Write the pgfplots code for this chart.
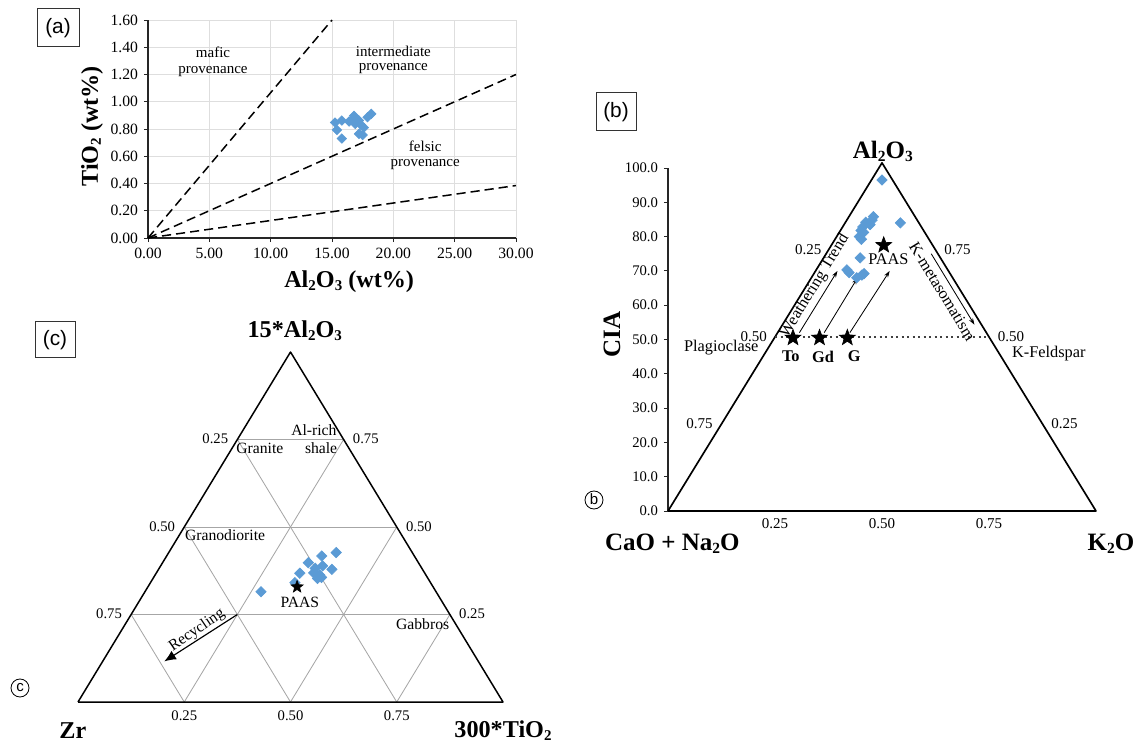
\documentclass[border=0pt]{standalone}
\usepackage{fontspec}
\setmainfont{Liberation Serif}
\newfontfamily\sansf{Liberation Sans}
\usepackage{pgfplots}
\pgfplotsset{compat=1.18}
\usepackage{pgfplotstable}
\usetikzlibrary{arrows.meta}
\definecolor{ptblue}{RGB}{91,155,213}

\pgfdeclareplotmark{fstar}{%
 \pgfpathmoveto{\pgfpointpolar{90}{\pgfplotmarksize}}%
 \pgfpathlineto{\pgfpointpolar{126}{0.42*\pgfplotmarksize}}%
 \pgfpathlineto{\pgfpointpolar{162}{\pgfplotmarksize}}%
 \pgfpathlineto{\pgfpointpolar{198}{0.42*\pgfplotmarksize}}%
 \pgfpathlineto{\pgfpointpolar{234}{\pgfplotmarksize}}%
 \pgfpathlineto{\pgfpointpolar{270}{0.42*\pgfplotmarksize}}%
 \pgfpathlineto{\pgfpointpolar{306}{\pgfplotmarksize}}%
 \pgfpathlineto{\pgfpointpolar{342}{0.42*\pgfplotmarksize}}%
 \pgfpathlineto{\pgfpointpolar{18}{\pgfplotmarksize}}%
 \pgfpathlineto{\pgfpointpolar{54}{0.42*\pgfplotmarksize}}%
 \pgfpathclose\pgfusepathqfillstroke}

\newcommand{\sub}[1]{\raisebox{-0.12em}{\scalebox{0.62}{#1}}}

% (a) Al2O3 vs TiO2 (wt%)
\pgfplotstableread{
x y
15.25 0.847
15.80 0.862
15.40 0.793
15.80 0.730
16.80 0.897
16.65 0.867
17.20 0.862
17.36 0.830
17.60 0.810
17.20 0.764
17.50 0.756
17.90 0.887
18.20 0.911
16.90 0.837
16.40 0.855
}\dataA

% (b) horizontal position (0-1) and CIA
\pgfplotstableread{
x y
0.500 96.5
0.480 85.8
0.477 84.8
0.472 83.5
0.462 84.2
0.455 82.8
0.451 81.8
0.457 81.2
0.447 80.0
0.452 79.2
0.543 84.0
0.449 73.8
0.418 70.3
0.423 69.5
0.441 68.0
0.453 68.8
0.458 69.2
}\dataB

\pgfplotstableread{
x y
0.292 50.5
0.354 50.5
0.419 50.5
0.504 77.5
}\starsB

% (c) ternary fractions Zr, 300*TiO2, 15*Al2O3
\pgfplotstableread{
Zr Ti Al
0.180 0.394 0.427
0.218 0.365 0.417
0.259 0.343 0.398
0.230 0.381 0.389
0.251 0.367 0.382
0.213 0.408 0.379
0.261 0.370 0.369
0.250 0.387 0.363
0.249 0.395 0.356
0.294 0.338 0.368
0.260 0.387 0.353
0.319 0.340 0.341
0.412 0.273 0.315
}\dataC

\pgfplotstableread{
Zr Ti Al
0.320 0.351 0.329
}\paasC

\begin{document}
\begin{tikzpicture}[x=1pt,y=1pt]
\path[use as bounding box] (0,0) rectangle (682.2,447.6);

% ---------------- panel (a) ----------------
\begin{axis}[at={(88.8pt,304.8pt)}, anchor=south west, scale only axis,
  width=220.8pt, height=130.8pt,
  xmin=0, xmax=30, ymin=0, ymax=1.6,
  xtick={0,5,10,15,20,25,30},
  ytick={0,0.2,0.4,0.6,0.8,1.0,1.2,1.4,1.6},
  axis x line*=bottom, axis y line*=left,
  axis line style={black!85, line width=0.7pt},
  grid=major, major grid style={black!13, line width=0.5pt},
  tick align=outside, major tick length=2.5pt,
  tick style={black!85, line width=0.5pt},
  ticklabel style={font=\fontsize{9.4}{10}\selectfont},
  /pgf/number format/assume math mode=true,
  xticklabel style={/pgf/number format/.cd, fixed, fixed zerofill, precision=2},
  yticklabel style={/pgf/number format/.cd, fixed, fixed zerofill, precision=2},
  clip=false]
\addplot[black, line width=0.9pt, dash pattern=on 5.5pt off 3pt] coordinates {(0,0) (15,1.6)};
\addplot[black, line width=0.9pt, dash pattern=on 5.5pt off 3pt] coordinates {(0,0) (30,1.2)};
\addplot[black, line width=0.9pt, dash pattern=on 5.5pt off 3pt] coordinates {(0,0) (30,0.385)};
\addplot[only marks, mark=square*, mark size=2pt,
  mark options={rotate=45, fill=ptblue, draw=ptblue}] table[x=x,y=y] {\dataA};
\begin{scope}[font=\fontsize{9}{10}\selectfont]
\node at (axis cs:5.3,1.36) {mafic};
\node at (axis cs:5.3,1.225) {provenance};
\node at (axis cs:20.0,1.372) {intermediate};
\node at (axis cs:20.0,1.240) {provenance};
\node at (axis cs:22.6,0.672) {felsic};
\node at (axis cs:22.6,0.540) {provenance};
\end{scope}
\node[rotate=90, font=\fontsize{14.5}{16}\selectfont\bfseries] at (axis cs:-4.55,0.82) {TiO\sub{2} (wt\%)};
\node[font=\fontsize{14.5}{16}\selectfont\bfseries] at (axis cs:16.4,-0.32) {Al\sub{2}O\sub{3} (wt\%)};
\end{axis}
\draw[black!80, line width=0.6pt] (22.2,419.4) rectangle (47.4,442.2);
\node[font=\sansf\fontsize{12.5}{14}\selectfont] at (34.8,430.8) {(a)};

% ---------------- panel (b) ----------------
\begin{axis}[at={(400.8pt,141pt)}, anchor=south west, scale only axis,
  width=256.8pt, height=205.8pt,
  xmin=0, xmax=1, ymin=0, ymax=100,
  axis x line=none, axis y line*=left,
  axis line style={black!85, line width=0.7pt},
  ytick={0,10,20,30,40,50,60,70,80,90,100},
  tick align=outside, major tick length=2.5pt,
  tick style={black!85, line width=0.5pt},
  ticklabel style={font=\fontsize{8.8}{10}\selectfont},
  /pgf/number format/assume math mode=true,
  yticklabel style={/pgf/number format/.cd, fixed, fixed zerofill, precision=1},
  clip=false]
\addplot[black, line width=1pt, line join=round] coordinates {(0,0) (0.5,101.5) (1,0) (0,0)};
\addplot[black!75, line width=0.8pt, dash pattern=on 1.4pt off 1.9pt] coordinates {(0.25,50.75) (0.75,50.75)};
\addplot[black, line width=0.5pt, -{Stealth[length=4pt,width=2.6pt]}] coordinates {(0.307,52) (0.396,70)};
\addplot[black, line width=0.5pt, -{Stealth[length=4pt,width=2.6pt]}] coordinates {(0.365,52) (0.443,68)};
\addplot[black, line width=0.5pt, -{Stealth[length=4pt,width=2.6pt]}] coordinates {(0.425,52) (0.518,70)};
\addplot[black, line width=0.5pt, -{Stealth[length=4pt,width=2.6pt]}] coordinates {(0.615,75) (0.716,54.3)};
\addplot[only marks, mark=square*, mark size=2.2pt,
  mark options={rotate=45, fill=ptblue, draw=ptblue}] table[x=x,y=y] {\dataB};
\addplot[only marks, mark=fstar, mark size=5pt, mark options={fill=black, draw=black}] table[x=x,y=y] {\starsB};
\begin{scope}[font=\fontsize{9}{10}\selectfont]
\node[anchor=east] at (axis cs:0.372,76.1) {0.25};
\node[anchor=east] at (axis cs:0.245,50.75) {0.50};
\node[anchor=east] at (axis cs:0.118,25.4) {0.75};
\node[anchor=west] at (axis cs:0.632,76.1) {0.75};
\node[anchor=west] at (axis cs:0.757,50.75) {0.50};
\node[anchor=west] at (axis cs:0.882,25.4) {0.25};
\node at (axis cs:0.25,-3.8) {0.25};
\node at (axis cs:0.50,-3.8) {0.50};
\node at (axis cs:0.75,-3.8) {0.75};
\end{scope}
\begin{scope}[font=\fontsize{9.8}{11}\selectfont]
\node[anchor=east] at (axis cs:0.225,47.6) {Plagioclase};
\node[anchor=west] at (axis cs:0.79,46.0) {K-Feldspar};
\node at (axis cs:0.515,73.3) {PAAS};
\node[rotate=58.5] at (axis cs:0.343,65.6) {Weathering Trend};
\node[rotate=-58.5] at (axis cs:0.641,64.0) {K-metasomatism};
\end{scope}
\begin{scope}[font=\fontsize{9.8}{10}\selectfont\bfseries]
\node at (axis cs:0.287,45) {To};
\node at (axis cs:0.362,45) {Gd};
\node at (axis cs:0.435,45) {G};
\end{scope}
\node[font=\fontsize{15}{16}\selectfont\bfseries] at (axis cs:0.502,104.8) {Al\sub{2}O\sub{3}};
\node[font=\fontsize{15}{16}\selectfont\bfseries] at (axis cs:0.01,-9.6) {CaO + Na\sub{2}O};
\node[font=\fontsize{15}{16}\selectfont\bfseries] at (axis cs:1.035,-9.6) {K\sub{2}O};
\node[rotate=90, font=\fontsize{15}{16}\selectfont\bfseries] at (axis cs:-0.131,51.4) {CIA};
\end{axis}
\draw[black!80, line width=0.6pt] (357.6,369) rectangle (381.6,391.8);
\node[font=\sansf\fontsize{12.5}{14}\selectfont] at (369.6,380.4) {(b)};
\draw[black, line width=0.5pt] (356.4,147.6) circle (5.4);
\node[font=\sansf\fontsize{9}{10}\selectfont] at (356.4,147.9) {b};

% ---------------- panel (c) ----------------
\begin{axis}[at={(46.8pt,26.4pt)}, anchor=south west, scale only axis,
  width=255pt, height=210pt,
  xmin=0, xmax=1, ymin=0, ymax=1,
  hide axis, clip=false]
% grid
\addplot[black!35, line width=0.5pt] coordinates {(0.125,0.25) (0.875,0.25)};
\addplot[black!35, line width=0.5pt] coordinates {(0.25,0.5) (0.75,0.5)};
\addplot[black!35, line width=0.5pt] coordinates {(0.375,0.75) (0.625,0.75)};
\addplot[black!35, line width=0.5pt] coordinates {(0.25,0) (0.625,0.75)};
\addplot[black!35, line width=0.5pt] coordinates {(0.5,0) (0.75,0.5)};
\addplot[black!35, line width=0.5pt] coordinates {(0.75,0) (0.875,0.25)};
\addplot[black!35, line width=0.5pt] coordinates {(0.75,0) (0.375,0.75)};
\addplot[black!35, line width=0.5pt] coordinates {(0.5,0) (0.25,0.5)};
\addplot[black!35, line width=0.5pt] coordinates {(0.25,0) (0.125,0.25)};
% triangle
\addplot[black, line width=0.9pt, line join=round] coordinates {(0,0) (0.5,1) (1,0) (0,0)};
% recycling arrow
\addplot[black, line width=0.7pt, -{Latex[length=7pt,width=6pt]}] coordinates {(0.375,0.25) (0.203,0.116)};
\addplot[only marks, mark=square*, mark size=2.2pt,
  mark options={rotate=45, fill=ptblue, draw=ptblue}]
  table[x expr=\thisrow{Ti}+0.5*\thisrow{Al}, y expr=\thisrow{Al}] {\dataC};
\addplot[only marks, mark=fstar, mark size=3.8pt, mark options={fill=black, draw=black}]
  table[x expr=\thisrow{Ti}+0.5*\thisrow{Al}, y expr=\thisrow{Al}] {\paasC};
\begin{scope}[font=\fontsize{8.8}{10}\selectfont]
\node[anchor=east] at (axis cs:0.367,0.752) {0.25};
\node[anchor=west] at (axis cs:0.633,0.752) {0.75};
\node[anchor=east] at (axis cs:0.242,0.502) {0.50};
\node[anchor=west] at (axis cs:0.758,0.502) {0.50};
\node[anchor=east] at (axis cs:0.117,0.252) {0.75};
\node[anchor=west] at (axis cs:0.883,0.252) {0.25};
\node at (axis cs:0.25,-0.04) {0.25};
\node at (axis cs:0.50,-0.04) {0.50};
\node at (axis cs:0.75,-0.04) {0.75};
\end{scope}
\begin{scope}[font=\fontsize{9.4}{10}\selectfont]
\node at (axis cs:0.428,0.724) {Granite};
\node at (axis cs:0.555,0.776) {Al-rich};
\node at (axis cs:0.572,0.724) {shale};
\node at (axis cs:0.346,0.476) {Granodiorite};
\node at (axis cs:0.522,0.284) {PAAS};
\node at (axis cs:0.811,0.222) {Gabbros};
\node[rotate=34] at (axis cs:0.28,0.205) {Recycling};
\end{scope}
\node[font=\fontsize{14.5}{16}\selectfont\bfseries] at (axis cs:0.51,1.062) {15*Al\sub{2}O\sub{3}};
\node[font=\fontsize{14.5}{16}\selectfont\bfseries] at (axis cs:-0.012,-0.083) {Zr};
\node[font=\fontsize{14.5}{16}\selectfont\bfseries] at (axis cs:1.0,-0.083) {300*TiO\sub{2}};
\end{axis}
\draw[black!80, line width=0.6pt] (21,232.8) rectangle (45,254.4);
\node[font=\sansf\fontsize{12.5}{14}\selectfont] at (33,243.6) {(c)};
\draw[black, line width=0.5pt] (12,34.8) circle (5.4);
\node[font=\sansf\fontsize{9}{10}\selectfont] at (12,35.1) {c};
\end{tikzpicture}
\end{document}
